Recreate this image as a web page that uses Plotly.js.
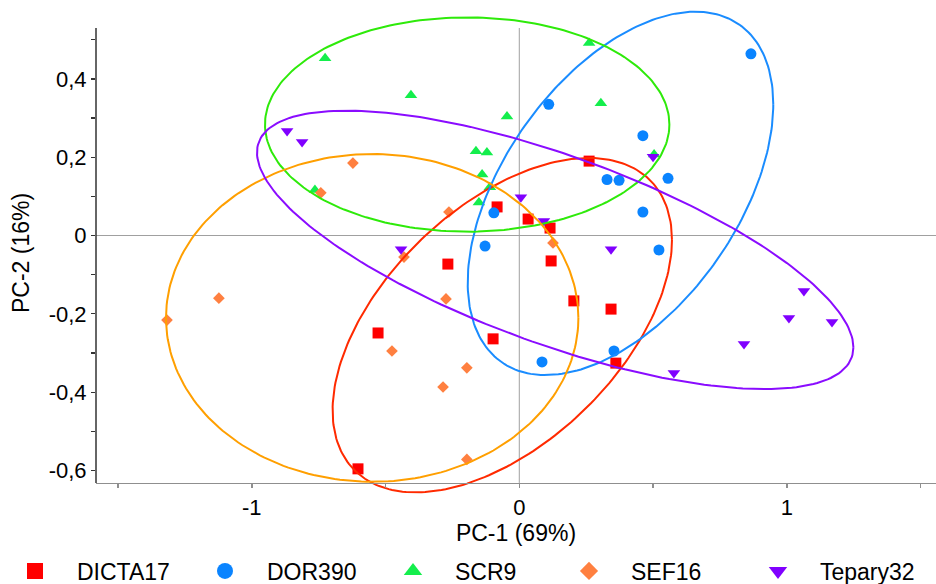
<!DOCTYPE html>
<html><head><meta charset="utf-8">
<script src="https://cdn.plot.ly/plotly-3.0.1.min.js"></script>
<style>html,body{margin:0;padding:0;background:#fff;} #chart{width:936px;height:584px;}</style>
</head><body><div id="chart"></div>
<script>
// ---- data ----
const groups = ['DICTA17', 'DOR390', 'SCR9', 'SEF16', 'Tepary32'];

const dictaX = [0.261, -0.083, 0.033, 0.115, -0.267, 0.119, 0.204, 0.343, -0.528, -0.098, 0.361, -0.603];
const dictaY = [0.190, 0.073, 0.042, 0.019, -0.073, -0.065, -0.167, -0.188, -0.249, -0.264, -0.326, -0.596];

const dorX = [0.866, 0.110, 0.462, 0.328, 0.373, 0.556, 0.462, -0.095, -0.128, 0.522, 0.354, 0.085];
const dorY = [0.464, 0.335, 0.255, 0.143, 0.141, 0.146, 0.060, 0.058, -0.027, -0.037, -0.295, -0.323];

const scrX = [-0.726, 0.261, -0.405, -0.046, 0.305, -0.162, -0.121, -0.139, -0.110, -0.151, -0.764, 0.504];
const scrY = [0.453, 0.492, 0.358, 0.304, 0.338, 0.215, 0.212, 0.156, 0.123, 0.084, 0.116, 0.207];

const sefX = [-0.622, -0.742, -0.263, -0.431, 0.126, -0.274, -0.196, -1.317, -1.123, -0.476, -0.285, -0.196];
const sefY = [0.185, 0.109, 0.060, -0.055, -0.019, -0.162, -0.338, -0.216, -0.160, -0.295, -0.387, -0.572];

const tepX = [-0.868, -0.812, -0.442, 0.006, 0.092, 0.343, 0.500, 0.578, 0.840, 1.008, 1.064, 1.169];
const tepY = [0.267, 0.239, -0.035, 0.098, 0.037, -0.035, 0.201, -0.351, -0.277, -0.211, -0.142, -0.221];

// confidence ellipses: centre, half-extent along x and y, correlation
const ellCx  = [-0.0636, 0.3783, -0.1948, -0.5499, 0.1342];
const ellCy  = [-0.2291, 0.1075, 0.2835, -0.2105, -0.0368];
const ellRx  = [0.6344, 0.5712, 0.7559, 0.7708, 1.1148];
const ellRy  = [0.4271, 0.4641, 0.2738, 0.4186, 0.3556];
const ellRho = [0.51, 0.49, 0.0, 0.0, -0.70];

const xTickVals = [-1, 0, 1];
const xTickText = ['-1', '0', '1'];
const yTickVals = [-0.6, -0.4, -0.2, 0, 0.2, 0.4];
const yTickText = ['-0,6', '-0,4', '-0,2', '0', '0,2', '0,4'];

// ---- styles ----
const markerColors  = ['#ff0000', '#0a84ff', '#14ee4c', '#ff8040', '#8000ff'];
const ellipseColors = ['#ff2a00', '#1a8cff', '#2eea0a', '#ff9f00', '#8a0cff'];
const symbols    = ['square', 'circle', 'triangle-up', 'diamond', 'triangle-down'];
const plotSizes  = [11, 11, 11, 9, 11];
const legendSizes = [16, 16, 16, 14, 16];
const legendMarkerPx = [35, 225, 413, 589, 778];
const legendItemWidth = 74;
const legendCenterPx = 571;

const xs = [dictaX, dorX, scrX, sefX, tepX];
const ys = [dictaY, dorY, scrY, sefY, tepY];

const W = 936, H = 584;
const margin = {l: 96, r: 0, t: 6, b: 84, pad: 0, autoexpand: false};
const plotW = W - margin.l - margin.r;
const plotH = H - margin.t - margin.b;
const xRange = [-1.5824, 1.5578];
const yRange = [-0.6756, 0.5862];
const frameTop = 0.530, frameBottom = -0.632;
const xAxisPos = (frameBottom - yRange[0]) / (yRange[1] - yRange[0]);
const FONT = 'Liberation Sans, Arial, sans-serif';

const traces = [];
// points
for (let g = 0; g < groups.length; g++) {
  traces.push({
    type: 'scatter', mode: 'markers', x: xs[g], y: ys[g], name: groups[g],
    showlegend: false, hoverinfo: 'skip',
    marker: {symbol: symbols[g], size: plotSizes[g], color: markerColors[g], line: {width: 0}}
  });
}
// ellipses
for (let g = 0; g < groups.length; g++) {
  const ex = [], ey = [];
  const n = 240, s = Math.sqrt(1 - ellRho[g] * ellRho[g]);
  for (let i = 0; i <= n; i++) {
    const t = 2 * Math.PI * i / n;
    ex.push(ellCx[g] + ellRx[g] * Math.cos(t));
    ey.push(ellCy[g] + ellRy[g] * (ellRho[g] * Math.cos(t) + s * Math.sin(t)));
  }
  traces.push({
    type: 'scatter', mode: 'lines', x: ex, y: ey, showlegend: false, hoverinfo: 'skip',
    line: {color: ellipseColors[g], width: 2}
  });
}
// legend entries
const legends = {};
for (let g = 0; g < groups.length; g++) {
  const key = g === 0 ? 'legend' : 'legend' + (g + 1);
  traces.push({
    type: 'scatter', mode: 'markers', x: [null], y: [null], name: groups[g],
    legend: key, showlegend: true,
    marker: {symbol: symbols[g], size: legendSizes[g], color: markerColors[g], line: {width: 0}}
  });
  legends[key] = {
    orientation: 'h', xanchor: 'left', yanchor: 'middle',
    x: (legendMarkerPx[g] - (5 + legendItemWidth / 2) - margin.l) / plotW,
    y: (margin.t + plotH - legendCenterPx) / plotH,
    font: {family: FONT, size: 23, color: '#000'},
    bgcolor: 'rgba(0,0,0,0)', borderwidth: 0, itemwidth: legendItemWidth
  };
}

const layout = Object.assign({
  width: W, height: H, margin: margin,
  paper_bgcolor: '#fff', plot_bgcolor: '#fff',
  font: {family: FONT, size: 22, color: '#000'},
  showlegend: true,
  xaxis: {
    range: xRange, anchor: 'free', position: xAxisPos, automargin: false,
    showline: true, linecolor: '#8f8f8f', linewidth: 1.5,
    showgrid: false, zeroline: false,
    ticks: 'outside', ticklen: 4, tickwidth: 1.5, tickcolor: '#8f8f8f',
    tickmode: 'array', tickvals: xTickVals, ticktext: xTickText,
    minor: {tickmode: 'linear', tick0: 0, dtick: 0.5, ticks: 'outside', ticklen: 4, tickwidth: 1.5, tickcolor: '#8f8f8f', showgrid: false},
    tickfont: {family: FONT, size: 22, color: '#000'},
    title: {text: 'PC-1 (69%)', font: {family: FONT, size: 23, color: '#000'}, standoff: 6}
  },
  yaxis: {
    range: yRange, showline: false, showgrid: false, automargin: false,
    zeroline: true, zerolinecolor: '#a0a0a0', zerolinewidth: 1,
    ticks: 'outside', ticklen: 4, tickwidth: 1.2, tickcolor: '#333',
    tickmode: 'array', tickvals: yTickVals, ticktext: yTickText,
    minor: {tickmode: 'linear', tick0: 0, dtick: 0.1, ticks: 'outside', ticklen: 4, tickwidth: 1.2, tickcolor: '#333', showgrid: false},
    tickfont: {family: FONT, size: 22, color: '#000'},
    title: {text: 'PC-2 (16%)', font: {family: FONT, size: 23, color: '#000'}, standoff: 12}
  },
  shapes: [
    {type: 'line', layer: 'below', xref: 'x', yref: 'y', x0: 0, x1: 0, y0: frameBottom, y1: frameTop,
     line: {color: '#a0a0a0', width: 1}},
    {type: 'line', layer: 'above', xref: 'paper', yref: 'y', x0: 0, x1: 0, y0: frameBottom, y1: frameTop,
     line: {color: '#333', width: 1.5}}
  ]
}, legends);

Plotly.newPlot('chart', traces, layout, {staticPlot: true, displayModeBar: false});
</script>
</body></html>
